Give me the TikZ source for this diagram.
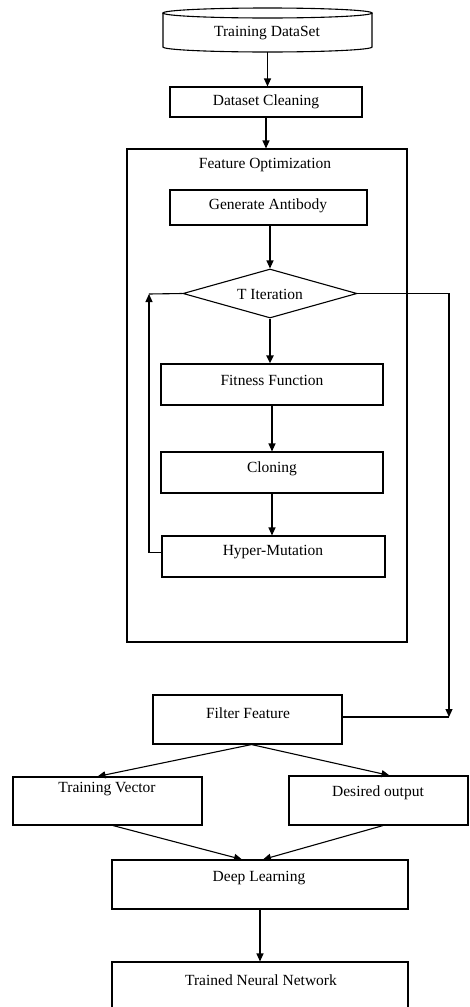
\documentclass[tikz,border=0pt]{standalone}
\usepackage{fontspec}
\setmainfont{Liberation Serif}
\usetikzlibrary{shapes.geometric,arrows.meta}
\begin{document}
\begin{tikzpicture}[x=1pt,y=-1pt,
  box/.style={draw, line width=1.1pt, rectangle, inner sep=0pt},
  lbl/.style={font=\fontsize{15.5}{18}\selectfont, inner sep=0pt},
  arr/.style={line width=1.1pt, -{Triangle[length=8pt,width=7pt]}},
  ln/.style={line width=1.1pt}]
\useasboundingbox (0,0) rectangle (470,1007);
\clip (0,0) rectangle (470,1007);
% cylinder
\node[inner sep=0pt, minimum width=209pt, minimum height=44pt] (ds) at (267.5,30) {};
\draw[ln] (267.5,13) ellipse [x radius=104.5pt, y radius=5pt];
\draw[ln] (163,13) -- (163,47) arc[start angle=180, end angle=360, x radius=104.5pt, y radius=5pt] -- (372,13);
\node[lbl] (tds) at (267,33) {Training DataSet};
% boxes
\node[box, minimum width=192pt, minimum height=30pt] (clean) at (266,102) {};
\node[lbl] (tclean) at (266,102) {Dataset Cleaning};
\node[box, minimum width=280pt, minimum height=493pt] (fo) at (267,395.5) {};
\node[lbl] (tfo) at (265,165) {Feature Optimization};
\node[box, minimum width=197pt, minimum height=35pt] (gen) at (268.5,207.5) {};
\node[lbl] (tgen) at (268,206) {Generate Antibody};
\node[draw, diamond, line width=1.1pt, inner sep=0pt, minimum width=174pt, minimum height=49pt] (iter) at (270,293.5) {};
\node[lbl] (titer) at (270,294) {T Iteration};
\node[box, minimum width=222pt, minimum height=41pt] (fit) at (272,384.5) {};
\node[lbl] (tfit) at (272,380) {Fitness Function};
\node[box, minimum width=222pt, minimum height=41pt] (clo) at (272,472.5) {};
\node[lbl] (tclo) at (272,469) {Cloning};
\node[box, minimum width=223pt, minimum height=41pt] (hm) at (273.5,556.5) {};
\node[lbl] (thm) at (273,552) {Hyper-Mutation};
\node[box, minimum width=189pt, minimum height=49pt] (filt) at (247.5,719.5) {};
\node[lbl] (tfilt) at (248,713) {Filter Feature};
\node[box, minimum width=189pt, minimum height=48pt] (tv) at (107.5,801) {};
\node[lbl] (ttv) at (107,789) {Training Vector};
\node[box, minimum width=179pt, minimum height=49pt] (do) at (378.5,800.5) {};
\node[lbl] (tdo) at (378,793) {Desired output};
\node[box, minimum width=296pt, minimum height=49pt] (dl) at (260,884.5) {};
\node[lbl] (tdl) at (259,878) {Deep Learning};
\node[box, minimum width=296pt, minimum height=58pt] (tnn) at (260,991) {};
\node[lbl] (ttnn) at (261,980) {Trained Neural Network};
% connectors
\draw[arr] (ds.south) -- (ds.south |- clean.north);
\draw[arr] (clean.south) -- (clean.south |- fo.north);
\draw[arr] (iter.north |- gen.south) -- (iter.north);
\draw[arr, line width=2.2pt] (iter.south) -- (iter.south |- fit.north);
\draw[arr] (fit.south) -- (fit.south |- clo.north);
\draw[arr] (clo.south) -- (clo.south |- hm.north);
\coordinate (lc) at (149,294);
\draw[arr] ([yshift=4pt]hm.west) -| (lc);
\draw[ln] (lc) -- (iter.west);
\coordinate (rc) at (449,717);
\draw[arr] (iter.east) -| (rc);
\draw[ln] (rc) -- (rc -| filt.east);
\draw[arr] ([xshift=4pt]filt.south) -- ([xshift=-10pt]tv.north);
\draw[arr] ([xshift=4pt]filt.south) -- ([xshift=11pt]do.north);
\draw[arr] ([xshift=5.5pt]tv.south) -- ([xshift=-18pt]dl.north);
\draw[arr] ([xshift=4.5pt]do.south) -- ([xshift=3pt]dl.north);
\draw[arr] (dl.south) -- (tnn.north);
\end{tikzpicture}
\end{document}
